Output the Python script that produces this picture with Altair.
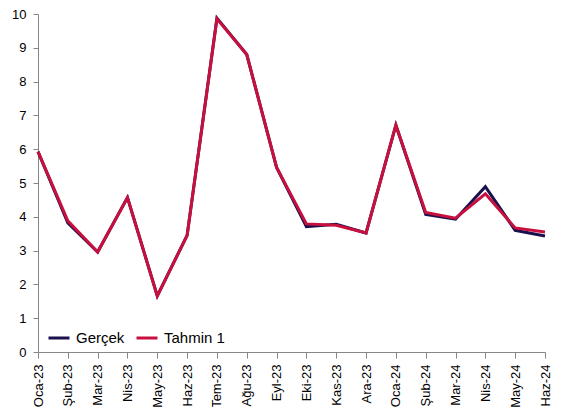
import altair as alt
import pandas as pd

months = ["Oca-23", "Şub-23", "Mar-23", "Nis-23", "May-23", "Haz-23", "Tem-23", "Ağu-23", "Eyl-23",
          "Eki-23", "Kas-23", "Ara-23", "Oca-24", "Şub-24", "Mar-24", "Nis-24", "May-24", "Haz-24"]
gercek = [5.93, 3.82, 2.96, 4.57, 1.66, 3.45, 9.88, 8.80, 5.46, 3.71, 3.78, 3.52, 6.71, 4.07, 3.93, 4.89, 3.60, 3.43]
tahmin = [5.93, 3.88, 2.96, 4.57, 1.66, 3.45, 9.86, 8.80, 5.46, 3.79, 3.75, 3.52, 6.71, 4.13, 3.96, 4.68, 3.67, 3.55]
series_names = ["Gerçek", "Tahmin 1"]
series_colors = ["#1b0f4d", "#c8103e"]

rows = []
for name, vals in zip(series_names, [gercek, tahmin]):
    for m, v in zip(months, vals):
        rows.append({"Ay": m, "Değer": v, "Seri": name})
df = pd.DataFrame(rows)

FONT = "Liberation Sans"

chart = alt.Chart(df).mark_line(strokeWidth=3).encode(
    x=alt.X("Ay:N", sort=months, scale=alt.Scale(type="point", padding=0),
            axis=alt.Axis(title=None, labelAngle=-90, labelAlign="right", labelBaseline="middle",
                          labelFontSize=13, labelFont=FONT, labelColor="#000000", labelPadding=6,
                          tickSize=6, tickColor="#868686", domainColor="#868686", grid=False)),
    y=alt.Y("Değer:Q", scale=alt.Scale(domain=[0, 10], nice=False),
            axis=alt.Axis(title=None, values=list(range(0, 11)), labelFontSize=13, labelFont=FONT,
                          labelColor="#000000", labelPadding=7, tickSize=5, tickColor="#868686",
                          domainColor="#868686", grid=False)),
    color=alt.Color("Seri:N", scale=alt.Scale(domain=series_names, range=series_colors),
                    legend=alt.Legend(title=None, orient="none", legendX=9, legendY=312,
                                      direction="horizontal", symbolType="stroke",
                                      symbolSize=441, symbolStrokeWidth=3, labelFontSize=15,
                                      labelFont=FONT, labelColor="#000000", labelOffset=5,
                                      columnPadding=5, padding=0)),
).properties(
    width=507, height=338,
    autosize=alt.AutoSizeParams(type="none"),
    padding={"left": 30, "top": 6, "right": 8, "bottom": 55},
).configure_view(stroke=None)

chart.save("out.html", embed_options={"renderer": "svg", "actions": False})
